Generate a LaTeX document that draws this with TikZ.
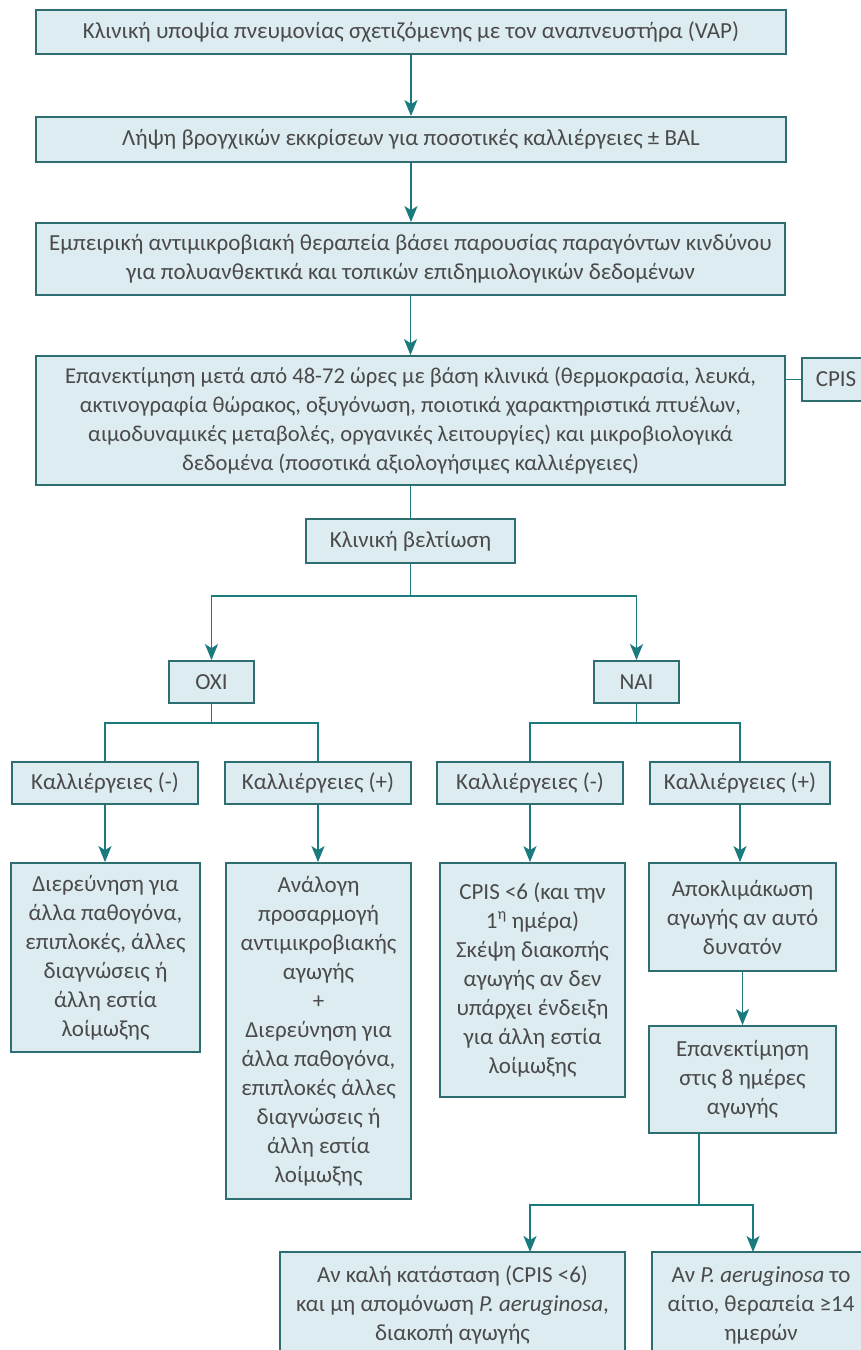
\documentclass[tikz,border=0pt]{standalone}
\usepackage{fontspec}
\setmainfont{Carlito}
\usetikzlibrary{arrows.meta}
\definecolor{boxfill}{HTML}{DCECF1}
\definecolor{boxline}{HTML}{2F6E70}
\definecolor{conncol}{HTML}{1B7A7E}
\definecolor{txt}{HTML}{4A4A4A}
\begin{document}
\begin{tikzpicture}[x=1pt,y=-1pt,
  box/.style={draw=boxline, fill=boxfill, line width=1.8pt, inner sep=0pt, align=center, text=txt, font=\fontsize{23}{29}\selectfont},
  link/.style={draw=conncol, line width=1.8pt},
  arr/.style={link, -{Stealth[length=16pt,width=13pt,inset=4pt]}}]
\useasboundingbox (0,0) rectangle (861,1350);
\clip (0,0) rectangle (861,1350);
\fill[white] (0,0) rectangle (861,1350);

\node[box, minimum width=750pt, minimum height=44pt] (b1) at (411,32) {Κλινική υποψία πνευμονίας σχετιζόμενης με τον αναπνευστήρα (VAP)};
\node[box, minimum width=750pt, minimum height=45pt] (b2) at (411,139.5) {Λήψη βρογχικών εκκρίσεων για ποσοτικές καλλιέργειες ± BAL};
\node[box, minimum width=749pt, minimum height=72pt] (b3) at (410.5,259) {Εμπειρική αντιμικροβιακή θεραπεία βάσει παρουσίας παραγόντων κινδύνου\\για πολυανθεκτικά και τοπικών επιδημιολογικών δεδομένων};
\node[box, minimum width=749pt, minimum height=129pt, font=\fontsize{22.6}{29}\selectfont] (b4) at (410.5,420.5) {Επανεκτίμηση μετά από 48-72 ώρες με βάση κλινικά (θερμοκρασία, λευκά,\\ακτινογραφία θώρακος, οξυγόνωση, ποιοτικά χαρακτηριστικά πτυέλων,\\αιμοδυναμικές μεταβολές, οργανικές λειτουργίες) και μικροβιολογικά\\δεδομένα (ποσοτικά αξιολογήσιμες καλλιέργειες)};
\node[box, minimum width=68pt, minimum height=43pt] (cpis) at (836,379.5) {CPIS};
\node[box, minimum width=209pt, minimum height=44pt] (klin) at (410.5,541) {Κλινική βελτίωση};
\node[box, minimum width=85pt, minimum height=42pt] (oxi) at (211.5,682) {ΟΧΙ};
\node[box, minimum width=85pt, minimum height=42pt] (nai) at (636.5,682) {ΝΑΙ};

\node[box, minimum width=186pt, minimum height=42pt] (ka) at (105,783) {Καλλιέργειες (-)};
\node[box, minimum width=186pt, minimum height=42pt] (kb) at (318,783) {Καλλιέργειες (+)};
\node[box, minimum width=186pt, minimum height=42pt] (kc) at (530,783) {Καλλιέργειες (-)};
\node[box, minimum width=180pt, minimum height=42pt] (kd) at (740,783) {Καλλιέργειες (+)};

\node[box, minimum width=189pt, minimum height=189pt] (da) at (105.5,957.5) {Διερεύνηση για\\άλλα παθογόνα,\\επιπλοκές, άλλες\\διαγνώσεις ή\\άλλη εστία\\λοίμωξης};
\node[box, minimum width=185pt, minimum height=336pt] (db) at (318.5,1031) {Ανάλογη\\προσαρμογή\\αντιμικροβιακής\\αγωγής\\+\\Διερεύνηση για\\άλλα παθογόνα,\\επιπλοκές άλλες\\διαγνώσεις ή\\άλλη εστία\\λοίμωξης};
\node[box, minimum width=185pt, minimum height=234pt] (dc) at (532.5,980) {CPIS <6 (και την\\1\textsuperscript{η} ημέρα)\\Σκέψη διακοπής\\αγωγής αν δεν\\υπάρχει ένδειξη\\για άλλη εστία\\λοίμωξης};
\node[box, minimum width=187pt, minimum height=108pt] (dd) at (742.5,917) {Αποκλιμάκωση\\αγωγής αν αυτό\\δυνατόν};
\node[box, minimum width=187pt, minimum height=107pt] (de) at (742.5,1079.5) {Επανεκτίμηση\\στις 8 ημέρες\\αγωγής};

\node[box, minimum width=345pt, minimum height=106pt] (bf) at (452.5,1305) {Αν καλή κατάσταση (CPIS <6)\\και μη απομόνωση \textit{P. aeruginosa},\\διακοπή αγωγής};
\node[box, minimum width=218pt, minimum height=106pt] (bg) at (761,1305) {Αν \textit{P. aeruginosa} το\\αίτιο, θεραπεία ≥14\\ημερών};

% connectors
\draw[arr] (b1.south) -- (b1.south |- b2.north);
\draw[arr] (b2.south) -- (b2.south |- b3.north);
\draw[arr] (b3.south) -- (b3.south |- b4.north);
\draw[link] (b4.east |- cpis.west) -- (cpis.west);
\draw[link] (b4.south -| klin.north) -- (klin.north);

\coordinate (h1) at (0,596);
\draw[link] (klin.south) -- (klin.south |- h1);
\draw[arr] (klin.south |- h1) -| (oxi.north);
\draw[arr] (klin.south |- h1) -| (nai.north);

\coordinate (h2) at (0,723);
\draw[link] (oxi.south) -- (oxi.south |- h2);
\draw[link] (ka.north) -- (ka.north |- h2) -- (kb.north |- h2) -- (kb.north);
\draw[link] (nai.south) -- (nai.south |- h2);
\draw[link] (kc.north) -- (kc.north |- h2) -- (kd.north |- h2) -- (kd.north);

\draw[arr] (ka.south) -- (ka.south |- da.north);
\draw[arr] (kb.south) -- (kb.south |- db.north);
\draw[arr] (kc.south) -- (kc.south |- dc.north);
\draw[arr] (kd.south) -- (kd.south |- dd.north);
\draw[arr] (dd.south) -- (de.north);

\coordinate (h3) at (0,1205);
\coordinate (eb) at (699,1133);
\coordinate (fa) at (530,1252);
\coordinate (ga) at (753,1252);
\draw[link] (eb) -- (eb |- h3);
\draw[arr] (eb |- h3) -| (fa);
\draw[arr] (eb |- h3) -| (ga);
\end{tikzpicture}
\end{document}
